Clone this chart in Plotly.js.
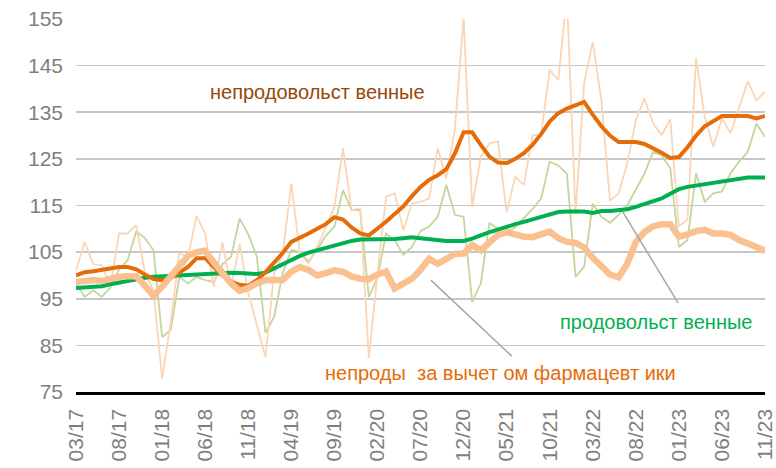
<!DOCTYPE html>
<html>
<head>
<meta charset="utf-8">
<script src="https://cdn.plot.ly/plotly-3.0.1.min.js"></script>
<style>
html, body { margin: 0; padding: 0; background: #ffffff; }
#chart { width: 776px; height: 468px; }
</style>
</head>
<body>
<div id="chart"></div>
<script>
// Months (categories)
const months = [
  "03/17","04/17","05/17","06/17","07/17","08/17","09/17","10/17","11/17","12/17",
  "01/18","02/18","03/18","04/18","05/18","06/18","07/18","08/18","09/18","10/18","11/18","12/18",
  "01/19","02/19","03/19","04/19","05/19","06/19","07/19","08/19","09/19","10/19","11/19","12/19",
  "01/20","02/20","03/20","04/20","05/20","06/20","07/20","08/20","09/20","10/20","11/20","12/20",
  "01/21","02/21","03/21","04/21","05/21","06/21","07/21","08/21","09/21","10/21","11/21","12/21",
  "01/22","02/22","03/22","04/22","05/22","06/22","07/22","08/22","09/22","10/22","11/22","12/22",
  "01/23","02/23","03/23","04/23","05/23","06/23","07/23","08/23","09/23","10/23","11/23"
];

// Tick labels shown on the x axis
const tickLabels = ["03/17","08/17","01/18","06/18","11/18","04/19","09/19","02/20","07/20",
  "12/20","05/21","10/21","03/22","08/22","01/23","06/23","11/23"];

// Non-food (smoothed)
const nonFoodSmooth = [
  100.0,100.7,100.9,101.2,101.6,101.8,101.8,101.3,100.2,99.2,
  99.0,99.5,100.6,101.8,103.7,103.7,101.8,100.0,98.7,98.0,
  97.8,99.0,100.7,102.6,104.8,107.2,108.0,109.0,110.0,111.0,
  112.5,112.0,110.3,109.0,108.6,110.0,111.5,113.2,114.8,117.0,
  119.0,120.5,121.5,122.8,126.2,130.7,130.7,128.0,125.5,124.2,
  124.1,125.0,126.2,128.0,130.3,133.0,134.8,135.8,136.6,137.2,
  134.5,132.0,130.0,128.6,128.6,128.6,128.2,127.3,126.3,125.2,
  125.4,127.5,130.0,132.0,133.0,134.2,134.2,134.2,134.2,133.7,
  134.2
];

// Food (smoothed)
const foodSmooth = [
  97.3,97.4,97.5,97.7,98.1,98.5,98.9,99.2,99.5,99.7,
  99.8,99.9,100.0,100.2,100.3,100.3,100.3,100.4,100.6,100.5,
  100.3,100.3,100.6,101.5,102.5,103.4,104.2,104.9,105.4,106.0,
  106.5,107.0,107.4,107.7,107.7,107.7,107.7,107.8,108.0,108.2,
  108.0,107.8,107.5,107.4,107.4,107.4,107.9,108.7,109.3,109.8,
  110.5,111.0,111.5,112.0,112.6,113.2,113.6,113.7,113.7,113.7,
  113.4,113.8,113.8,114.0,114.2,114.7,115.3,115.8,116.5,117.5,
  118.5,119.0,119.3,119.6,119.9,120.2,120.6,120.9,121.0,121.0,
  121.0
];

// Non-food excluding pharmaceuticals (smoothed)
const nonFoodExPharma = [
  98.6,98.9,99.0,98.8,99.3,99.7,99.8,99.8,97.8,95.6,
  97.6,99.8,102.0,104.2,105.0,105.3,102.8,100.5,98.3,96.7,
  97.3,98.3,99.0,99.0,99.0,100.8,101.8,101.2,100.0,100.5,
  101.1,100.8,99.8,99.3,99.2,100.2,100.8,97.2,98.2,99.3,
  101.2,103.6,102.5,103.6,104.6,104.7,106.5,105.4,107.2,108.7,
  109.3,108.8,108.3,108.2,108.8,109.4,108.0,107.2,107.0,106.0,
  103.8,101.8,100.2,99.6,102.5,107.2,109.3,110.5,111.0,111.0,
  108.3,108.8,109.5,109.8,109.0,109.0,108.7,107.6,107.0,106.1,
  105.3
];

// Non-food (monthly, raw)
const nonFoodRaw = [
  101.0,107.2,102.4,102.2,97.6,109.0,109.0,110.8,100.6,96.8,
  77.9,90.0,104.7,104.0,112.7,109.0,97.6,107.1,97.5,106.7,
  96.3,89.5,82.5,100.4,104.7,119.7,104.7,102.6,106.1,110.3,
  114.7,127.3,114.0,114.4,82.2,100.4,116.9,117.6,109.7,115.4,
  115.8,116.5,127.3,120.8,131.5,155.5,114.7,125.5,128.3,128.7,
  113.6,121.2,119.4,130.1,130.2,144.1,141.9,160.0,113.3,141.2,
  150.1,137.6,116.0,117.6,124.0,133.2,138.0,132.6,130.1,133.5,
  110.5,112.0,146.6,134.0,127.6,133.7,130.5,136.0,141.6,137.6,
  139.4
];

// Food (monthly, raw)
const foodRaw = [
  98.3,95.4,96.8,95.4,97.4,101.3,103.3,109.4,108.0,105.4,
  86.8,88.3,99.7,98.3,99.7,99.0,98.6,102.4,104.0,112.2,
  108.8,104.0,87.7,91.1,100.5,105.5,105.0,103.0,105.5,108.5,
  110.5,118.3,114.0,114.0,95.4,99.4,109.0,107.6,104.4,106.1,
  109.5,110.5,112.6,119.4,113.0,112.6,94.3,98.3,111.2,110.1,
  109.0,110.4,112.4,114.2,116.5,124.4,123.6,121.8,99.7,101.9,
  115.4,112.6,111.3,113.0,115.0,118.5,121.8,126.5,125.8,123.0,
  106.1,107.6,121.9,115.8,117.6,118.0,121.9,124.4,126.5,132.6,
  129.7
];

const FONT = "Liberation Sans, Arial, sans-serif";

const traces = [
  { x: months, y: foodRaw, type: "scatter", mode: "lines", line: { color: "#C3D69B", width: 1.8 }, hoverinfo: "skip" },
  { x: months, y: nonFoodRaw, type: "scatter", mode: "lines", line: { color: "#FCD5B4", width: 1.8 }, hoverinfo: "skip" },
  { x: months, y: foodSmooth, type: "scatter", mode: "lines", line: { color: "#00B050", width: 4 }, hoverinfo: "skip" },
  { x: months, y: nonFoodSmooth, type: "scatter", mode: "lines", line: { color: "#E46C0A", width: 4 }, hoverinfo: "skip" },
  { x: months, y: nonFoodExPharma, type: "scatter", mode: "lines", line: { color: "#FAC090", width: 6.5 }, hoverinfo: "skip" }
];

const layout = {
  width: 776, height: 468,
  margin: { l: 76, r: 11, t: 19, b: 76, pad: 0 },
  paper_bgcolor: "#ffffff", plot_bgcolor: "#ffffff",
  showlegend: false,
  font: { family: FONT, color: "#7f7f7f" },
  xaxis: {
    type: "category", range: [0, 80], autorange: false,
    tickmode: "array", tickvals: tickLabels, ticktext: tickLabels,
    tickangle: -90, tickfont: { family: FONT, size: 21, color: "#7f7f7f" },
    showgrid: false, zeroline: false,
    showline: true, linecolor: "#000000", linewidth: 2.5,
    ticks: "", automargin: false, ticklabelstandoff: 6
  },
  yaxis: {
    range: [75, 155], autorange: false, tick0: 75, dtick: 10,
    tickfont: { family: FONT, size: 21, color: "#7f7f7f" },
    showgrid: true, gridcolor: "#c6c6c6", gridwidth: 1.6,
    zeroline: false, showline: false, ticks: "", automargin: false,
    ticklabelstandoff: 12
  },
  shapes: [
    { type: "line", xref: "x", yref: "y", x0: 41.2, y0: 99.0, x1: 50.6, y1: 82.7, line: { color: "#a6a6a6", width: 1.5 } },
    { type: "line", xref: "x", yref: "y", x0: 63.5, y0: 113.6, x1: 69.9, y1: 94.1, line: { color: "#a6a6a6", width: 1.5 } }
  ],
  annotations: [
    { x: 28.0, y: 139.3, xref: "x", yref: "y", text: "непродовольст венные", showarrow: false,
      xanchor: "center", yanchor: "middle", font: { family: FONT, size: 20, color: "#984807" } },
    { x: 67.4, y: 90.0, xref: "x", yref: "y", text: "продовольст венные", showarrow: false,
      xanchor: "center", yanchor: "middle", font: { family: FONT, size: 20, color: "#00B050" } },
    { x: 49.3, y: 79.0, xref: "x", yref: "y", text: "непроды\u00a0 за вычет ом фармацевт ики", showarrow: false,
      xanchor: "center", yanchor: "middle", font: { family: FONT, size: 20, color: "#E46C0A" } }
  ]
};

Plotly.newPlot("chart", traces, layout, { staticPlot: true, displayModeBar: false });
</script>
</body>
</html>
